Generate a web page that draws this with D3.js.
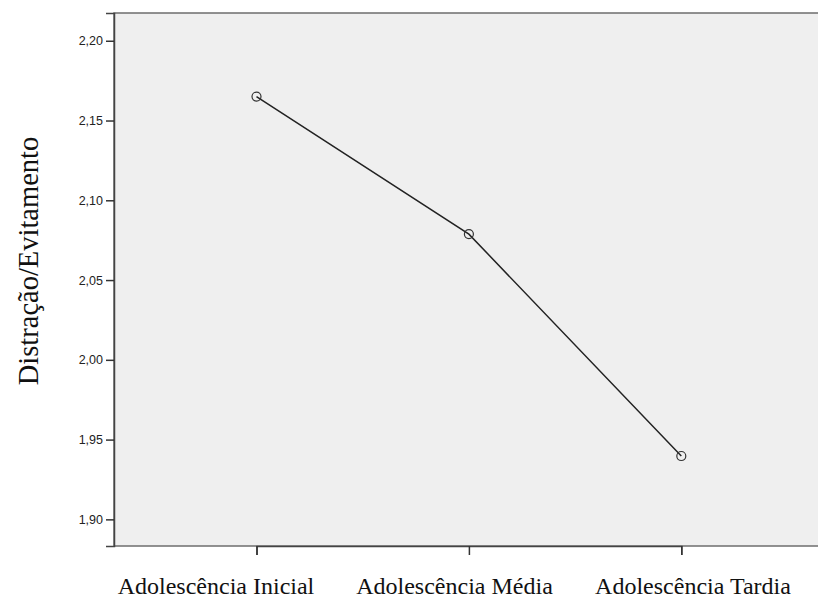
<!DOCTYPE html>
<html><head><meta charset="utf-8">
<script src="https://cdn.jsdelivr.net/npm/d3@7/dist/d3.min.js"></script>
<style>body{margin:0;background:#fff}svg{display:block}</style>
</head><body>
<script>
const categories = ["Adolescência Inicial", "Adolescência Média", "Adolescência Tardia"];
const values = [2.165, 2.0788, 1.9397];
const yTicks = [1.90, 1.95, 2.00, 2.05, 2.10, 2.15, 2.20];
const yLabel = "Distração/Evitamento";

const W = 818, H = 599;
const mLeft = 114, mTop = 13, mRight = 823, mBottom = 546;
const svg = d3.select("body").append("svg").attr("width", W).attr("height", H);

const y = d3.scaleLinear().domain([1.8833, 2.2174]).range([mBottom, mTop]);
const x = d3.scalePoint().domain(categories).range([256.5, 681.3]);
const xLab = d3.scalePoint().domain(categories).range([216, 693]);

svg.append("rect").attr("x", mLeft).attr("y", mTop).attr("width", mRight - mLeft).attr("height", mBottom - mTop)
  .attr("fill", "#efefef").attr("stroke", "#6e6e6e").attr("stroke-width", 1.5);

const fmt = d => d.toFixed(2).replace(".", ",");
const yAxis = svg.append("g").attr("transform", `translate(${mLeft},0)`)
  .call(d3.axisLeft(y).tickValues(yTicks).tickFormat(fmt).tickSize(8).tickPadding(3));
yAxis.select(".domain").attr("stroke", "#444").attr("stroke-width", 1.5);
yAxis.selectAll(".tick line").attr("stroke", "#333").attr("stroke-width", 1.5);
yAxis.selectAll(".tick text").attr("font-family", "Liberation Sans, Arial, sans-serif").attr("font-size", 12.5).attr("fill", "#222");

const xAxis = svg.append("g").attr("transform", `translate(0,${mBottom})`)
  .call(d3.axisBottom(x).tickSize(9).tickFormat(""));
xAxis.select(".domain").attr("stroke", "#444").attr("stroke-width", 1.5);
xAxis.selectAll(".tick line").attr("stroke", "#333").attr("stroke-width", 1.5);

svg.append("g").selectAll("text").data(categories).join("text")
  .attr("x", d => xLab(d)).attr("y", 593.5).attr("text-anchor", "middle")
  .attr("font-family", "Liberation Serif, Times New Roman, serif").attr("font-size", 24).attr("fill", "#111")
  .text(d => d);

svg.append("text").attr("transform", `translate(38,261) rotate(-90)`)
  .attr("text-anchor", "middle").attr("font-family", "Liberation Serif, Times New Roman, serif")
  .attr("font-size", 28.5).attr("fill", "#111").text(yLabel);

const data = categories.map((c, i) => ({c, v: values[i]}));
svg.append("path").datum(data)
  .attr("d", d3.line().x(d => x(d.c)).y(d => y(d.v)))
  .attr("fill", "none").attr("stroke", "#222").attr("stroke-width", 1.5);
svg.selectAll("circle.pt").data(data).join("circle").attr("class", "pt")
  .attr("cx", d => x(d.c)).attr("cy", d => y(d.v)).attr("r", 4.5)
  .attr("fill", "none").attr("stroke", "#333").attr("stroke-width", 1.2);
</script>
</body></html>
